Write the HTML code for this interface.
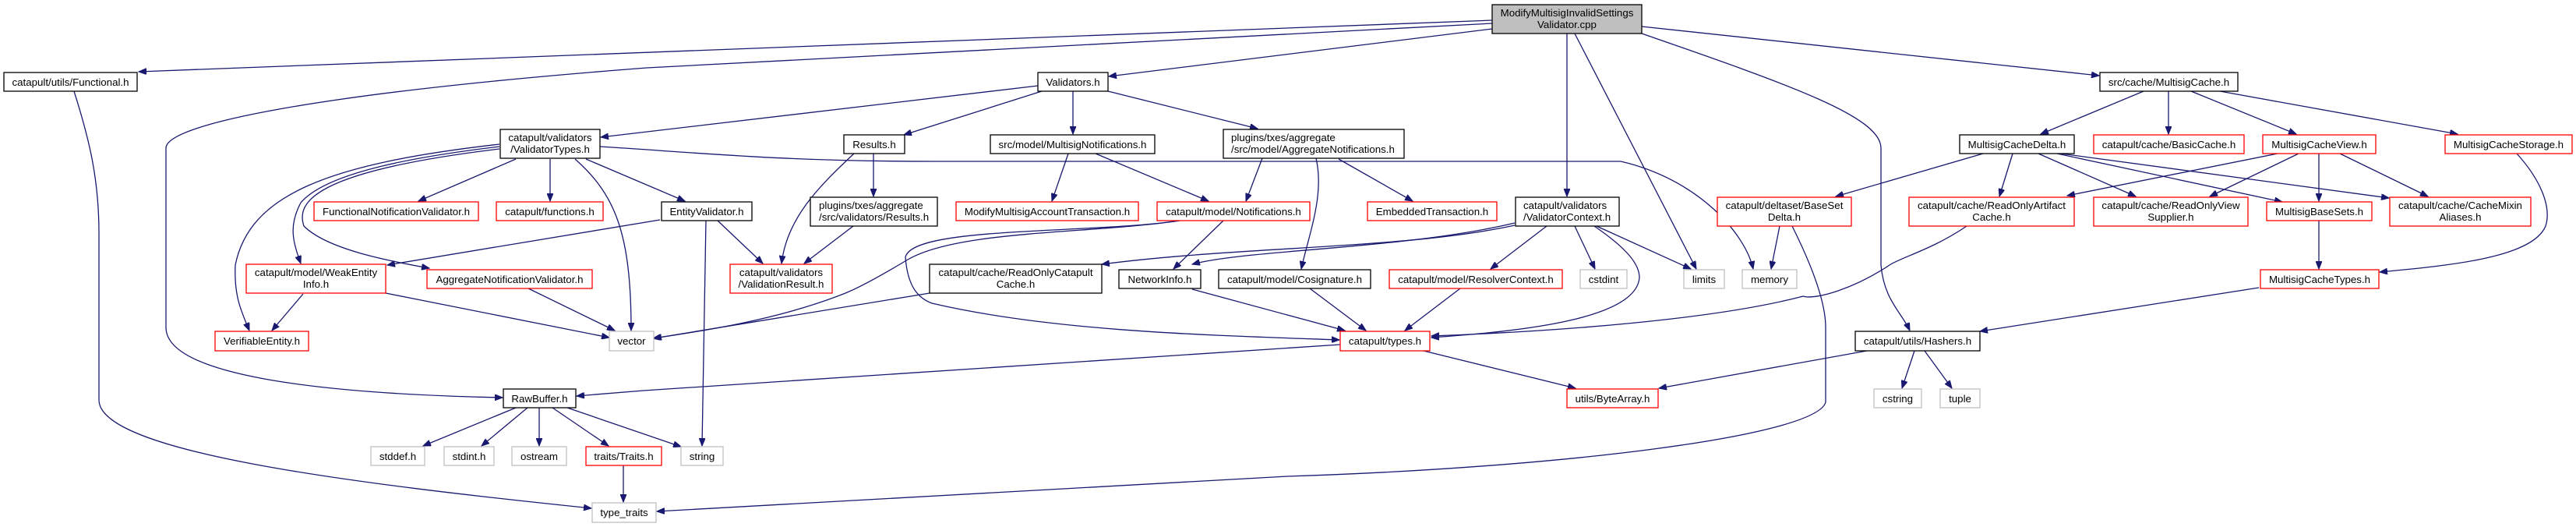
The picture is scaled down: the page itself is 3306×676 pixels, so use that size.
<!DOCTYPE html>
<html><head><meta charset="utf-8"><style>
html,body{margin:0;padding:0;background:#fff;}
svg{display:block;}
text{font-family:"Liberation Sans",Arial,sans-serif;font-size:13.3px;fill:#000;}
.b{fill:#fff;stroke:#000;stroke-width:1.3}
.r{fill:#fff;stroke:#ff0000;stroke-width:1.3}
.g{fill:#fff;stroke:#bfbfbf;stroke-width:1.3}
.e{fill:none;stroke:#191970;stroke-width:1.3;marker-end:url(#a)}
.c{text-anchor:middle}
</style></head><body>
<svg width="3306" height="676" viewBox="0 0 3306 676" xmlns="http://www.w3.org/2000/svg">
<defs><marker id="a" markerUnits="userSpaceOnUse" markerWidth="11" markerHeight="8" refX="10" refY="4" orient="auto"><path d="M0,0 L10,4 L0,8 z" fill="#191970" stroke="#191970"/></marker></defs>

<!-- edges -->
<path class="e" d="M1915,26 L178,92"/>
<path class="e" d="M1915,30 L830,87 C400,120 213,160 213,190 L213,420 C213,480 400,505 645,510"/>
<path class="e" d="M1915,37 L1423,98"/>
<path class="e" d="M2011,43 L2011,252"/>
<path class="e" d="M2021,43 L2177,345"/>
<path class="e" d="M2107,43 C2300,110 2414,150 2414,190 L2414,340 C2418,385 2440,400 2451,424"/>
<path class="e" d="M2107,34 L2694,97"/>
<path class="e" d="M95,117 C115,180 127,230 127,300 L127,513 C127,580 450,620 759,652"/>

<path class="e" d="M1332,110 L771,176"/>
<path class="e" d="M1337,117 L1160,173"/>
<path class="e" d="M1377,117 L1377,172"/>
<path class="e" d="M1422,117 L1614,165"/>

<path class="e" d="M662,204 L537,258"/>
<path class="e" d="M706,204 L706,258"/>
<path class="e" d="M738,204 C790,250 810,300 810,424"/>
<path class="e" d="M752,204 L879,258"/>
<path class="e" d="M770,188 C900,196 1000,207 1200,207 L2080,207 C2180,230 2240,300 2250,345"/>
<path class="e" d="M641,188 C540,200 420,220 386,260 C370,290 376,310 386,338"/>
<path class="e" d="M641,191 C400,220 380,260 390,290 C420,320 500,335 551,344"/>
<path class="e" d="M641,185 C420,210 320,250 302,340 C300,380 310,400 320,424"/>
<path class="e" d="M847,282 L497,340"/>
<path class="e" d="M921,283 L979,338"/>
<path class="e" d="M1096,197 C1050,240 1010,280 1003,338"/>
<path class="e" d="M1095,290 L1032,338"/>
<path class="e" d="M906,283 L901,572"/>
<path class="e" d="M389,377 L349,424"/>
<path class="e" d="M495,376 L782,433"/>
<path class="e" d="M678,370 L789,424"/>
<path class="e" d="M1514,283 C1400,300 1230,295 1165,333 C1120,360 1100,370 1085,376 C1000,410 900,425 838,434"/>
<path class="e" d="M1193,376 L839,434"/>
<path class="e" d="M1514,283 C1400,300 1170,290 1162,330 C1165,370 1180,383 1196,389 C1350,425 1550,430 1719,436"/>
<path class="e" d="M1570,283 L1506,345"/>
<path class="e" d="M1620,203 L1599,258"/>
<path class="e" d="M1689,203 C1700,250 1680,300 1670,345"/>
<path class="e" d="M1718,204 L1813,258"/>
<path class="e" d="M1371,197 L1350,258"/>
<path class="e" d="M1406,197 L1551,258"/>
<path class="e" d="M1121,197 L1121,252"/>

<path class="e" d="M1944,289 C1800,320 1600,315 1414,339"/>
<path class="e" d="M1944,286 C1800,320 1600,320 1530,339"/>
<path class="e" d="M1985,290 L1913,345"/>
<path class="e" d="M2021,290 L2047,345"/>
<path class="e" d="M2046,290 C2090,320 2104,340 2104,356 C2100,410 1950,425 1837,433"/>
<path class="e" d="M2049,290 L2170,345"/>
<path class="e" d="M1681,370 L1753,424"/>
<path class="e" d="M1874,370 L1803,424"/>
<path class="e" d="M1530,371 L1726,424"/>
<path class="e" d="M1720,442 L826,501 L740,508"/>
<path class="e" d="M1827,450 L2022,498"/>
<path class="e" d="M2396,450 L2129,498"/>
<path class="e" d="M2457,450 L2441,498"/>
<path class="e" d="M2470,450 L2505,498"/>
<path class="e" d="M2284,290 L2273,345"/>
<path class="e" d="M2300,290 C2315,320 2343,380 2343,420 L2343,516 C2330,560 2000,600 1652,611 L843,656"/>
<path class="e" d="M2524,290 C2480,320 2440,330 2425,340 C2380,370 2330,385 2314,380 C2200,410 2000,425 1837,431"/>

<path class="e" d="M2751,117 L2619,172"/>
<path class="e" d="M2783,117 L2783,172"/>
<path class="e" d="M2812,117 L2947,172"/>
<path class="e" d="M2849,117 L3154,172"/>
<path class="e" d="M2545,197 L2356,252"/>
<path class="e" d="M2583,197 L2566,252"/>
<path class="e" d="M2616,197 L2741,252"/>
<path class="e" d="M2640,197 L2929,259"/>
<path class="e" d="M2645,197 L3066,254"/>
<path class="e" d="M2923,197 L2653,251"/>
<path class="e" d="M2950,197 L2836,252"/>
<path class="e" d="M2976,197 L2976,258"/>
<path class="e" d="M3003,197 L3116,252"/>
<path class="e" d="M3230,197 C3260,230 3275,265 3267,290 C3250,330 3150,340 3054,349"/>
<path class="e" d="M2976,283 L2976,345"/>
<path class="e" d="M2899,369 L2541,425"/>
<path class="e" d="M662,523 L543,572"/>
<path class="e" d="M677,523 L618,572"/>
<path class="e" d="M692,523 L692,572"/>
<path class="e" d="M709,523 L781,572"/>
<path class="e" d="M728,523 L874,573"/>
<path class="e" d="M800,597 L800,644"/>

<!-- nodes: black -->
<rect x="1915" y="6" width="192" height="37" fill="#bfbfbf" stroke="#000" stroke-width="1.3"/>
<text class="c" x="2011" y="21">ModifyMultisigInvalidSettings</text><text class="c" x="2011" y="36">Validator.cpp</text>
<rect class="b" x="5" y="93" width="171" height="24"/><text class="c" x="90.5" y="110">catapult/utils/Functional.h</text>
<rect class="b" x="642" y="166" width="128" height="37"/><text class="c" x="706" y="181">catapult/validators</text><text class="c" x="706" y="196">/ValidatorTypes.h</text>
<rect class="b" x="646" y="499" width="93" height="24"/><text class="c" x="692.5" y="516">RawBuffer.h</text>
<rect class="b" x="1332" y="93" width="90" height="24"/><text class="c" x="1377" y="110">Validators.h</text>
<rect class="b" x="1083" y="173" width="78" height="24"/><text class="c" x="1122" y="190">Results.h</text>
<rect class="b" x="1271" y="173" width="211" height="24"/><text class="c" x="1376.5" y="190">src/model/MultisigNotifications.h</text>
<rect class="b" x="1570" y="166" width="232" height="37"/><text x="1580" y="181">plugins/txes/aggregate</text><text x="1580" y="196">/src/model/AggregateNotifications.h</text>
<rect class="b" x="849" y="259" width="116" height="24"/><text class="c" x="907" y="276">EntityValidator.h</text>
<rect class="b" x="1040" y="253" width="163" height="37"/><text x="1051" y="268">plugins/txes/aggregate</text><text x="1051" y="283">/src/validators/Results.h</text>
<rect class="b" x="1193" y="339" width="221" height="37"/><text class="c" x="1303.5" y="354">catapult/cache/ReadOnlyCatapult</text><text class="c" x="1303.5" y="369">Cache.h</text>
<rect class="b" x="1436" y="346" width="105" height="24"/><text class="c" x="1488.5" y="363">NetworkInfo.h</text>
<rect class="b" x="1564" y="346" width="195" height="24"/><text class="c" x="1661.5" y="363">catapult/model/Cosignature.h</text>
<rect class="b" x="1945" y="253" width="133" height="37"/><text x="1955" y="268">catapult/validators</text><text x="1955" y="283">/ValidatorContext.h</text>
<rect class="b" x="2381" y="425" width="160" height="25"/><text class="c" x="2461" y="442">catapult/utils/Hashers.h</text>
<rect class="b" x="2695" y="93" width="177" height="24"/><text class="c" x="2783.5" y="110">src/cache/MultisigCache.h</text>
<rect class="b" x="2515" y="173" width="147" height="24"/><text class="c" x="2588.5" y="190">MultisigCacheDelta.h</text>

<!-- red -->
<rect class="r" x="403" y="259" width="211" height="24"/><text class="c" x="508.5" y="276">FunctionalNotificationValidator.h</text>
<rect class="r" x="637" y="259" width="137" height="24"/><text class="c" x="705.5" y="276">catapult/functions.h</text>
<rect class="r" x="316" y="339" width="179" height="37"/><text class="c" x="405.5" y="354">catapult/model/WeakEntity</text><text class="c" x="405.5" y="369">Info.h</text>
<rect class="r" x="548" y="346" width="212" height="24"/><text class="c" x="654" y="363">AggregateNotificationValidator.h</text>
<rect class="r" x="276" y="425" width="120" height="25"/><text class="c" x="336" y="442">VerifiableEntity.h</text>
<rect class="r" x="752" y="573" width="97" height="24"/><text class="c" x="800.5" y="590">traits/Traits.h</text>
<rect class="r" x="937" y="339" width="131" height="37"/><text class="c" x="1002.5" y="354">catapult/validators</text><text class="c" x="1002.5" y="369">/ValidationResult.h</text>
<rect class="r" x="1227" y="259" width="234" height="24"/><text class="c" x="1344" y="276">ModifyMultisigAccountTransaction.h</text>
<rect class="r" x="1485" y="259" width="196" height="24"/><text class="c" x="1583" y="276">catapult/model/Notifications.h</text>
<rect class="r" x="1755" y="259" width="166" height="24"/><text class="c" x="1838" y="276">EmbeddedTransaction.h</text>
<rect class="r" x="2204" y="253" width="172" height="37"/><text class="c" x="2290" y="268">catapult/deltaset/BaseSet</text><text class="c" x="2290" y="283">Delta.h</text>
<rect class="r" x="2450" y="253" width="212" height="37"/><text class="c" x="2556" y="268">catapult/cache/ReadOnlyArtifact</text><text class="c" x="2556" y="283">Cache.h</text>
<rect class="r" x="1783" y="346" width="222" height="24"/><text class="c" x="1894" y="363">catapult/model/ResolverContext.h</text>
<rect class="r" x="1720" y="425" width="115" height="25"/><text class="c" x="1777.5" y="442">catapult/types.h</text>
<rect class="r" x="2011" y="499" width="117" height="24"/><text class="c" x="2069.5" y="516">utils/ByteArray.h</text>
<rect class="r" x="2687" y="173" width="193" height="24"/><text class="c" x="2783.5" y="190">catapult/cache/BasicCache.h</text>
<rect class="r" x="2904" y="173" width="145" height="24"/><text class="c" x="2976.5" y="190">MultisigCacheView.h</text>
<rect class="r" x="3138" y="173" width="163" height="24"/><text class="c" x="3219.5" y="190">MultisigCacheStorage.h</text>
<rect class="r" x="2687" y="253" width="198" height="37"/><text class="c" x="2786" y="268">catapult/cache/ReadOnlyView</text><text class="c" x="2786" y="283">Supplier.h</text>
<rect class="r" x="2909" y="259" width="135" height="24"/><text class="c" x="2976.5" y="276">MultisigBaseSets.h</text>
<rect class="r" x="3067" y="253" width="181" height="37"/><text class="c" x="3157.5" y="268">catapult/cache/CacheMixin</text><text class="c" x="3157.5" y="283">Aliases.h</text>
<rect class="r" x="2901" y="346" width="152" height="24"/><text class="c" x="2977" y="363">MultisigCacheTypes.h</text>

<!-- gray -->
<rect class="g" x="782" y="425" width="57" height="25"/><text class="c" x="810.5" y="442">vector</text>
<rect class="g" x="476" y="573" width="69" height="24"/><text class="c" x="510.5" y="590">stddef.h</text>
<rect class="g" x="570" y="573" width="64" height="24"/><text class="c" x="602" y="590">stdint.h</text>
<rect class="g" x="657" y="573" width="70" height="24"/><text class="c" x="692" y="590">ostream</text>
<rect class="g" x="874" y="573" width="54" height="24"/><text class="c" x="901" y="590">string</text>
<rect class="g" x="760" y="645" width="82" height="25"/><text class="c" x="801" y="662">type_traits</text>
<rect class="g" x="2028" y="346" width="60" height="24"/><text class="c" x="2058" y="363">cstdint</text>
<rect class="g" x="2161" y="346" width="52" height="24"/><text class="c" x="2187" y="363">limits</text>
<rect class="g" x="2236" y="346" width="70" height="24"/><text class="c" x="2271" y="363">memory</text>
<rect class="g" x="2405" y="499" width="61" height="24"/><text class="c" x="2435.5" y="516">cstring</text>
<rect class="g" x="2490" y="499" width="51" height="24"/><text class="c" x="2515.5" y="516">tuple</text>
</svg>
</body></html>
